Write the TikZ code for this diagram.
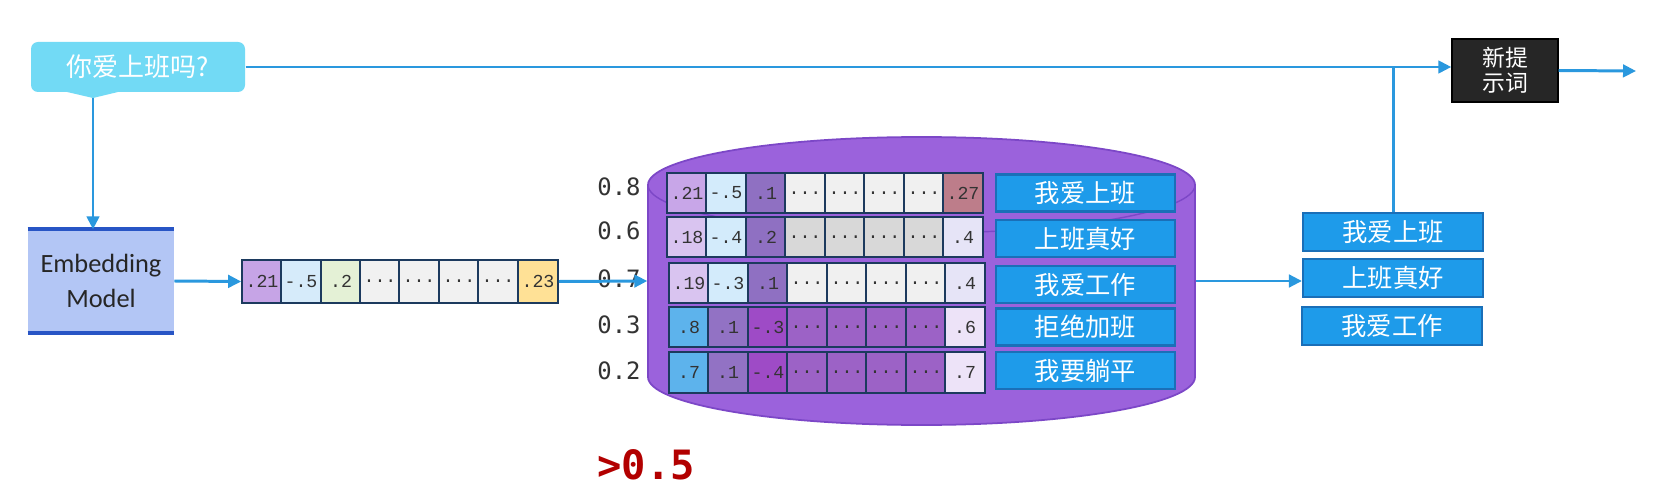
\documentclass[tikz,border=0pt]{standalone}
\usepackage{fontspec}
\setmainfont{Carlito}
\newfontfamily\cjk{Noto Sans CJK SC}
\newfontfamily\scorefont{DejaVu Sans Mono}
\newfontfamily\cellfont{Liberation Mono}
\usepackage{tikz}
\usetikzlibrary{arrows.meta,backgrounds}
\definecolor{linec}{HTML}{2A98DE}
\definecolor{bubblec}{HTML}{72DAF5}
\definecolor{embfill}{HTML}{B3C6F5}
\definecolor{embline}{HTML}{2855C5}
\definecolor{cellline}{HTML}{1C3A5E}
\definecolor{cylfill}{HTML}{9B62DC}
\definecolor{cylline}{HTML}{7C47C7}
\definecolor{boxfill}{HTML}{1E9BEA}
\definecolor{boxline}{HTML}{1A6FB8}
\definecolor{darkbox}{HTML}{262626}
\definecolor{thrc}{HTML}{B20000}
%cell colours
\definecolor{vA}{HTML}{C6A4E6}
\definecolor{vB}{HTML}{D6EBFA}
\definecolor{vC}{HTML}{E4F1D6}
\definecolor{vD}{HTML}{F1F1F1}
\definecolor{vE}{HTML}{FFE196}
\definecolor{lavA}{HTML}{C8A6E8}
\definecolor{lavB}{HTML}{D9C4F0}
\definecolor{lblue}{HTML}{D3EBFB}
\definecolor{pcell}{HTML}{8F70C2}
\definecolor{dotsA}{HTML}{F0F0F0}
\definecolor{dotsB}{HTML}{D8D8D8}
\definecolor{rose}{HTML}{BD7D8A}
\definecolor{pale}{HTML}{E6E4F7}
\definecolor{bcell}{HTML}{5DB3EC}
\definecolor{qcell}{HTML}{9272C4}
\definecolor{mcell}{HTML}{9E4BC6}
\definecolor{dotsC}{HTML}{9C62C6}
\definecolor{paleB}{HTML}{EDE3F8}
\newcommand{\cellw}{0.395cm}
\newcommand{\cellh}{0.405cm}
\newcommand{\lw}{0.85pt}

\tikzset{
  arr/.style={draw=linec, line width=\lw, -{Triangle[length=1.3mm,width=1.25mm]}},
  plain/.style={draw=linec, line width=\lw},
  cell/.style={draw=cellline, line width=0.6pt, minimum width=\cellw, minimum height=\cellh,
    inner sep=0pt, text=black!80, font=\cellfont\fontsize{5.2}{5.5}\selectfont},
  vcell/.style={cell, minimum height=0.43cm},
  txtbox/.style={draw=boxline, fill=boxfill, line width=0.6pt, minimum width=1.79cm,
    minimum height=0.37cm, inner sep=0pt, text=white, font=\cjk\fontsize{7.2}{8}\selectfont},
  resbox/.style={txtbox, minimum width=1.80cm, minimum height=0.38cm},
  score/.style={inner sep=0pt, text=black!80, font=\scorefont\fontsize{6.8}{7}\selectfont},
}

\begin{document}
\begin{tikzpicture}
\useasboundingbox[fill=white] (0,0) rectangle (16.57,-4.91);
%query
\node[fill=bubblec, rounded corners=0.7mm] (q) at (1.38, -0.67) [minimum width=2.14cm, minimum height=0.50cm, inner sep=0pt, text=white, font=\cjk\fontsize{7.4}{8}\selectfont] {你爱上班吗?};
\fill[bubblec] (0.65, -0.915) -- (1.20, -0.915) -- (0.93, -0.98) -- cycle;
\coordinate (qt) at (0.93, -0.98);
%embedding
\node[fill=embfill] (emb) at (1.01, -2.81) [minimum width=1.455cm, minimum height=1.02cm, align=center, text=black!85, font=\fontsize{7.5}{10}\selectfont] {Embedding\\Model};
\draw[embline] [line width=1.2pt] (emb.north west) -- (emb.north east);
\draw[embline] [line width=1.2pt] (emb.south west) -- (emb.south east);
%query vector
\node[vcell, fill=vA] (v1) at (2.62, -2.815) {.21};
\node[vcell, fill=vB] (v2) at (3.01, -2.815) {-.5};
\node[vcell, fill=vC] (v3) at (3.41, -2.815) {.2};
\node[vcell, fill=vD] (v4) at (3.80, -2.815) {...};
\node[vcell, fill=vD] (v5) at (4.19, -2.815) {...};
\node[vcell, fill=vD] (v6) at (4.59, -2.815) {...};
\node[vcell, fill=vD] (v7) at (4.98, -2.815) {...};
\node[vcell, fill=vE] (v8) at (5.38, -2.815) {.23};
%database
\fill[cylfill] (6.48, -1.85) -- (6.48, -3.77) arc (180:360:2.735 and 0.48) -- (11.95, -1.85) arc (0:180:2.735 and 0.48) -- cycle;
\draw[cylline] [line width=0.5pt] (6.48, -1.85) -- (6.48, -3.77) arc (180:360:2.735 and 0.48) -- (11.95, -1.85) arc (0:180:2.735 and 0.48) -- cycle;
\draw[cylline] [line width=0.4pt] (6.48, -1.85) arc (180:360:2.735 and 0.48);
\node[inner sep=0pt, minimum width=5.47cm, minimum height=2.88cm] (db) at (9.215, -2.81) {};
%row 1
\node[cell, fill=lavA] (a1) at (6.87, -1.93) {.21};
\node[cell, fill=lblue] (a2) at (7.26, -1.93) {-.5};
\node[cell, fill=pcell] (a3) at (7.66, -1.93) {.1};
\node[cell, fill=dotsA] (a4) at (8.05, -1.93) {...};
\node[cell, fill=dotsA] (a5) at (8.45, -1.93) {...};
\node[cell, fill=dotsA] (a6) at (8.84, -1.93) {...};
\node[cell, fill=dotsA] (a7) at (9.24, -1.93) {...};
\node[cell, fill=rose] (a8) at (9.63, -1.93) {.27};
%row 2
\node[cell, fill=lavB] (b1) at (6.87, -2.37) {.18};
\node[cell, fill=lblue] (b2) at (7.26, -2.37) {-.4};
\node[cell, fill=pcell] (b3) at (7.66, -2.37) {.2};
\node[cell, fill=dotsB] (b4) at (8.05, -2.37) {...};
\node[cell, fill=dotsB] (b5) at (8.45, -2.37) {...};
\node[cell, fill=dotsB] (b6) at (8.84, -2.37) {...};
\node[cell, fill=dotsB] (b7) at (9.24, -2.37) {...};
\node[cell, fill=pale] (b8) at (9.63, -2.37) {.4};
%row 3
\node[cell, fill=lavB] (c1) at (6.89, -2.83) {.19};
\node[cell, fill=lblue] (c2) at (7.28, -2.83) {-.3};
\node[cell, fill=pcell] (c3) at (7.68, -2.83) {.1};
\node[cell, fill=dotsA] (c4) at (8.07, -2.83) {...};
\node[cell, fill=dotsA] (c5) at (8.47, -2.83) {...};
\node[cell, fill=dotsA] (c6) at (8.86, -2.83) {...};
\node[cell, fill=dotsA] (c7) at (9.26, -2.83) {...};
\node[cell, fill=pale] (c8) at (9.65, -2.83) {.4};
%row 4
\node[cell, fill=bcell] (d1) at (6.89, -3.27) {.8};
\node[cell, fill=qcell] (d2) at (7.28, -3.27) {.1};
\node[cell, fill=mcell] (d3) at (7.68, -3.27) {-.3};
\node[cell, fill=dotsC] (d4) at (8.07, -3.27) {...};
\node[cell, fill=dotsC] (d5) at (8.47, -3.27) {...};
\node[cell, fill=dotsC] (d6) at (8.86, -3.27) {...};
\node[cell, fill=dotsC] (d7) at (9.26, -3.27) {...};
\node[cell, fill=paleB] (d8) at (9.65, -3.27) {.6};
%row 5
\node[cell, fill=bcell] (e1) at (6.89, -3.725) {.7};
\node[cell, fill=qcell] (e2) at (7.28, -3.725) {.1};
\node[cell, fill=mcell] (e3) at (7.68, -3.725) {-.4};
\node[cell, fill=dotsC] (e4) at (8.07, -3.725) {...};
\node[cell, fill=dotsC] (e5) at (8.47, -3.725) {...};
\node[cell, fill=dotsC] (e6) at (8.86, -3.725) {...};
\node[cell, fill=dotsC] (e7) at (9.26, -3.725) {...};
\node[cell, fill=paleB] (e8) at (9.65, -3.725) {.7};
%texts
\node[txtbox] (t1) at (10.855, -1.93) {我爱上班};
\node[txtbox] (t2) at (10.855, -2.385) {上班真好};
\node[txtbox] (t3) at (10.855, -2.845) {我爱工作};
\node[txtbox] (t4) at (10.855, -3.27) {拒绝加班};
\node[txtbox] (t5) at (10.855, -3.705) {我要躺平};
%scores
\node[score] (s1) at (6.19, -1.87) {0.8};
\node[score] (s2) at (6.19, -2.31) {0.6};
\node[score] (s3) at (6.19, -2.79) {0.7};
\node[score] (s4) at (6.19, -3.25) {0.3};
\node[score] (s5) at (6.19, -3.71) {0.2};
\node[text=thrc, inner sep=0pt, font=\scorefont\bfseries\fontsize{11.5}{12}\selectfont] (thr) at (6.46, -4.65) {>0.5};
%results
\node[resbox] (r1) at (13.93, -2.32) {我爱上班};
\node[resbox] (r2) at (13.93, -2.78) {上班真好};
\node[resbox] (r3) at (13.92, -3.26) {我爱工作};
%new prompt
\node[fill=darkbox, draw=black] (np) at (15.05, -0.705) [minimum width=1.06cm, minimum height=0.63cm, inner sep=0pt, align=center, text=white, font=\cjk\fontsize{6.5}{7.1}\selectfont] {新提\\示词};
\coordinate (out) at (16.36, -0.71);
%connectors
\draw[arr] (qt) -- (qt |- emb.north);
\draw[arr] (emb.east) -- (v1.west);
\draw[arr] (v8.east) -- (db.west);
\draw[arr] (q.east) -- (q.east -| np.west);
\draw[arr] (np.east) -- (out);
\draw[plain] (r1.north) -- (r1.north |- q.east);
\draw[arr] (db.east) -- (db.east -| r2.west);
\end{tikzpicture}
\end{document}
